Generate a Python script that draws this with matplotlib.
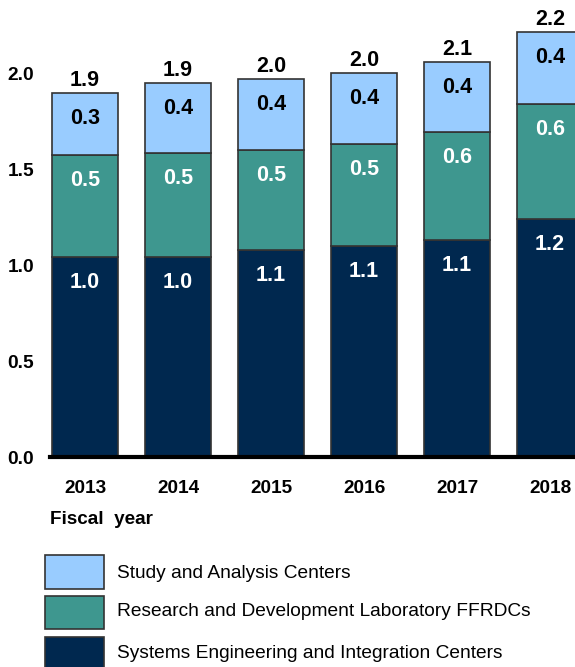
import matplotlib
matplotlib.use("Agg")
import matplotlib.pyplot as plt
from matplotlib.patches import Rectangle

years = ["2013", "2014", "2015", "2016", "2017", "2018"]
systems = [1.044, 1.044, 1.081, 1.102, 1.133, 1.243]
research = [0.533, 0.543, 0.522, 0.532, 0.564, 0.600]
study = [0.323, 0.366, 0.371, 0.371, 0.366, 0.376]
systems_lbl = ["1.0", "1.0", "1.1", "1.1", "1.1", "1.2"]
research_lbl = ["0.5", "0.5", "0.5", "0.5", "0.6", "0.6"]
study_lbl = ["0.3", "0.4", "0.4", "0.4", "0.4", "0.4"]
total_lbl = ["1.9", "1.9", "2.0", "2.0", "2.1", "2.2"]
yticks = [0.0, 0.5, 1.0, 1.5, 2.0]
series_names = ["Study and Analysis Centers",
                "Research and Development Laboratory FFRDCs",
                "Systems Engineering and Integration Centers"]

c_sys = "#00284F"
c_res = "#3E978F"
c_stu = "#99CCFF"
edge = "#333333"

plt.rcParams['font.family'] = ['Liberation Sans', 'DejaVu Sans']

W, H = 575, 667
fig = plt.figure(figsize=(W / 100, H / 100), dpi=100)

# axes in pixel coordinates
ax_l, ax_r, ax_b, ax_t = 50, 575, 457, 0
ax = fig.add_axes([ax_l / W, 1 - ax_b / H, (ax_r - ax_l) / W, (ax_b - ax_t) / H])
ppu = 191.5
pitch = 93
ax.set_ylim(0, (ax_b - ax_t) / ppu)
ax.set_xlim(-(85 - ax_l) / pitch, (ax_r - 85) / pitch)

x = list(range(len(years)))
bw = 66 / pitch
ax.bar(x, systems, width=bw, color=c_sys, edgecolor=edge, linewidth=1.2, zorder=2)
b2 = [s for s in systems]
ax.bar(x, research, bottom=b2, width=bw, color=c_res, edgecolor=edge, linewidth=1.2, zorder=2)
b3 = [s + r for s, r in zip(systems, research)]
ax.bar(x, study, bottom=b3, width=bw, color=c_stu, edgecolor=edge, linewidth=1.2, zorder=2)

for i in x:
    tops = [systems[i], b3[i], b3[i] + study[i]]
    lbls = [systems_lbl[i], research_lbl[i], study_lbl[i]]
    cols = ["white", "white", "black"]
    for t, l, c in zip(tops, lbls, cols):
        ax.annotate(l, (i, t), xytext=(0, -18.5), textcoords="offset points",
                    ha="center", va="center", color=c, fontsize=15.5,
                    fontweight="bold", zorder=3)
    ax.annotate(total_lbl[i], (i, tops[2]), xytext=(0, 8.8), textcoords="offset points",
                ha="center", va="center", color="black", fontsize=15.5,
                fontweight="bold", zorder=3, annotation_clip=False)

for s in ["left", "right", "top"]:
    ax.spines[s].set_visible(False)
ax.spines["bottom"].set_linewidth(3)
ax.spines["bottom"].set_zorder(4)
ax.set_yticks(yticks)
ax.set_yticklabels([f"{v:.1f}" for v in yticks], fontsize=13.8, fontweight="bold")
ax.set_xticks(x)
ax.set_xticklabels(years, fontsize=13.7, fontweight="bold")
ax.tick_params(axis="both", length=0)
ax.tick_params(axis="y", pad=11.5)
ax.tick_params(axis="x", pad=16.8)

fig.text(50 / W, 1 - 519.5 / H, "Fiscal  year", fontsize=13.6, fontweight="bold",
         ha="left", va="center")

# legend
leg_items = [(c_stu, 555, 589), (c_res, 596, 629), (c_sys, 637, 671)]
text_y = [573, 612, 654]
for (col, y0, y1), ty, name in zip(leg_items, text_y, series_names):
    fig.patches.append(Rectangle((45 / W, 1 - y1 / H), 59 / W, (y1 - y0) / H,
                                 transform=fig.transFigure, facecolor=col,
                                 edgecolor=edge, linewidth=1.2))
    fig.text(117 / W, 1 - ty / H, name, fontsize=13.8,
             ha="left", va="center")

fig.savefig("out.png", dpi=100)
